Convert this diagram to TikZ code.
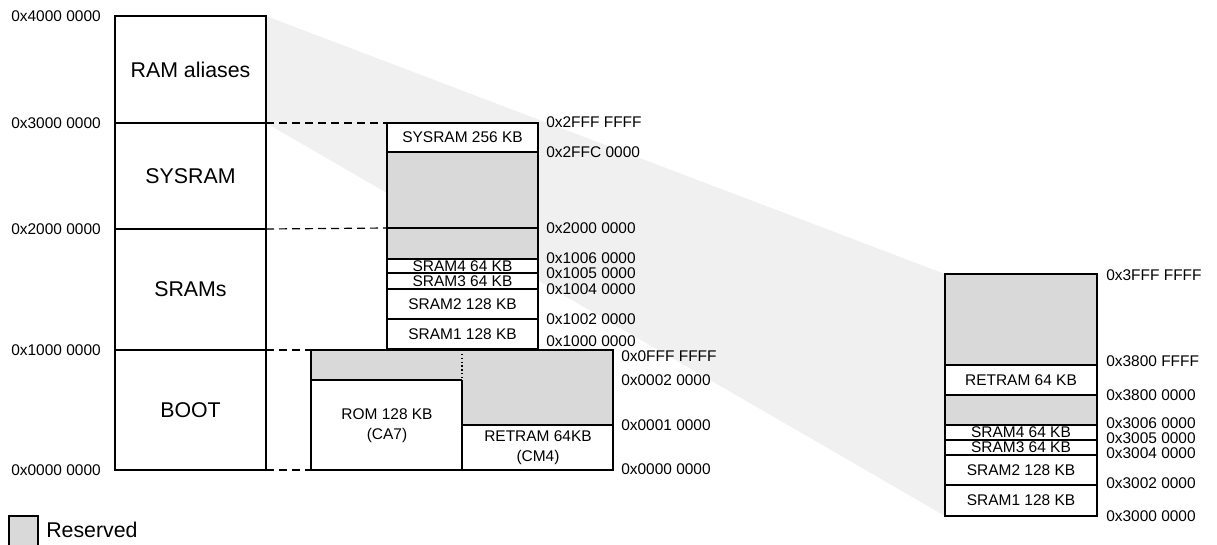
\documentclass[tikz,border=0pt]{standalone}
\usepackage{fontspec}
\setmainfont{Liberation Sans}
\definecolor{resgray}{HTML}{D9D9D9}
\definecolor{bandgray}{HTML}{F0F0F0}
\tikzset{
  addr/.style={font=\fontsize{11.6}{15}\selectfont, inner sep=0pt},
  biglbl/.style={font=\fontsize{16}{18}\selectfont, inner sep=0pt},
  thinline/.style={line width=0.9pt},
  thickline/.style={line width=1.9pt},
  aliasdash/.style={line width=0.9pt, dash pattern=on 6pt off 3.75pt},
}
\begin{document}
\begin{tikzpicture}[x=0.75pt, y=-0.75pt]
  \useasboundingbox (0,0) rectangle (1217,544);

  % Corners used by the alias band and the dashed guides
  \coordinate (topR) at (266,16);
  \coordinate (sysT) at (266,123);
  \coordinate (sysB) at (266,229);
  \coordinate (bootT) at (266,350);
  \coordinate (bootB) at (266,470);
  \coordinate (midT) at (387,123);
  \coordinate (midB) at (387,228);
  \coordinate (romT) at (311,350);
  \coordinate (romB) at (311,470);
  \coordinate (aliasT) at (945,274);
  \coordinate (aliasB) at (945,516);

  % Alias band behind everything
  \fill[bandgray] (topR) -- (aliasT) -- (aliasB) -- (sysT) -- cycle;

  % Left column: whole address space
  \foreach \t/\b/\lbl [count=\k] in {16/123/RAM aliases, 123/229/SYSRAM, 229/350/SRAMs, 350/470/BOOT} {
    \draw[thinline] (115,\t) rectangle (266,\b);
    \node[biglbl] (region\k) at (190.5,{(\t+\b)/2}) {\lbl};
  }
  \foreach \y/\a [count=\k] in {16/0x4000 0000, 123/0x3000 0000, 229/0x2000 0000, 350/0x1000 0000, 470/0x0000 0000}
    \node[addr, anchor=east] (leftaddr\k) at (101,\y) {\a};

  % Dashed guides
  \draw[aliasdash] (sysT) -- (midT);
  \draw[aliasdash] (sysB) -- (midB);
  \draw[aliasdash] (bootT) -- (romT);
  \draw[aliasdash] (bootB) -- (romB);

  % Middle column: SYSRAM and SRAMs
  \fill[resgray] (387,152) rectangle (538,259);
  \foreach \t/\b/\lbl [count=\k] in {123/152/SYSRAM 256 KB, 259/273/SRAM4 64 KB, 273/289/SRAM3 64 KB, 289/319/SRAM2 128 KB, 319/349/SRAM1 128 KB} {
    \draw[thinline, fill=white] (387,\t) rectangle (538,\b);
    \node[addr] (midcell\k) at (462.5,{(\t+\b)/2}) {\lbl};
  }
  \draw[thickline] (387,228) -- (538,228);
  \draw[thickline] (387,123) rectangle (538,349);
  \foreach \y/\a [count=\k] in {122/0x2FFF FFFF, 152/0x2FFC 0000, 228/0x2000 0000, 258/0x1006 0000, 273/0x1005 0000, 289/0x1004 0000, 319/0x1002 0000, 341/0x1000 0000}
    \node[addr, anchor=west] (midaddr\k) at (546,\y) {\a};

  % Boot box
  \fill[resgray] (311,350) rectangle (462,380);
  \fill[resgray] (462,350) rectangle (613,425);
  \draw[thinline] (311,380) -- (462,380);
  \draw[thinline] (462,380) -- (462,470);
  \draw[thinline, dotted] (462,350) -- (462,380);
  \draw[thinline] (462,425) -- (613,425);
  \draw[thickline] (311,350) rectangle (613,470);
  \node[addr, align=center] (rom) at (387,426) {ROM 128 KB\\(CA7)};
  \node[addr, align=center] (retram) at (538,448) {RETRAM 64KB\\(CM4)};
  \foreach \y/\a [count=\k] in {356/0x0FFF FFFF, 380/0x0002 0000, 425/0x0001 0000, 469/0x0000 0000}
    \node[addr, anchor=west] (bootaddr\k) at (621,\y) {\a};

  % Right column: RAM aliases
  \fill[white] (945,274) rectangle (1097,516);
  \fill[resgray] (945,274) rectangle (1097,365);
  \fill[resgray] (945,395) rectangle (1097,425);
  \foreach \t/\b/\lbl [count=\k] in {365/395/RETRAM 64 KB, 425/440/SRAM4 64 KB, 440/455/SRAM3 64 KB, 455/485/SRAM2 128 KB, 485/516/SRAM1 128 KB} {
    \draw[thinline] (945,\t) rectangle (1097,\b);
    \node[addr] (aliascell\k) at (1021,{(\t+\b)/2}) {\lbl};
  }
  \draw[thickline] (945,274) rectangle (1097,516);
  \foreach \y/\a [count=\k] in {275/0x3FFF FFFF, 361/0x3800 FFFF, 395/0x3800 0000, 423/0x3006 0000, 438/0x3005 0000, 453/0x3004 0000, 483/0x3002 0000, 516/0x3000 0000}
    \node[addr, anchor=west] (aliasaddr\k) at (1106,\y) {\a};

  % Legend
  \draw[line width=1.3pt, fill=resgray] (9,516) rectangle (38,546);
  \node[biglbl, anchor=west] (legend) at (46,530) {Reserved};
\end{tikzpicture}
\end{document}
